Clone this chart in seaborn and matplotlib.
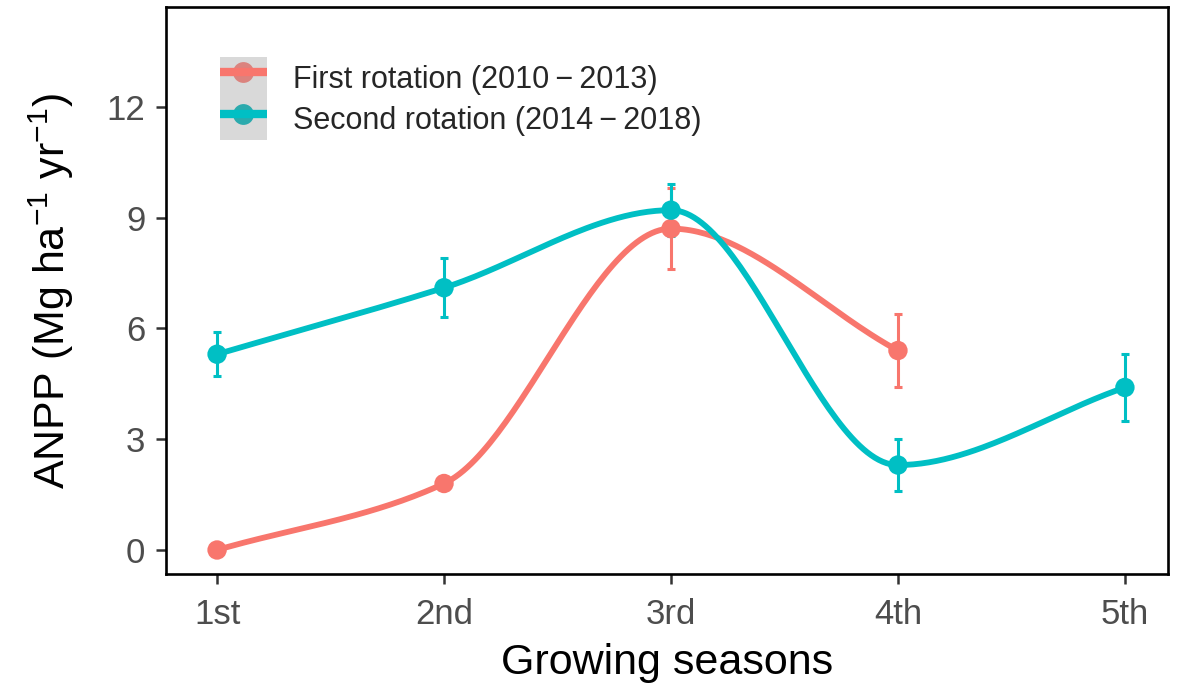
import numpy as np
import matplotlib
matplotlib.use("Agg")
import matplotlib.pyplot as plt
from matplotlib.patches import Rectangle
from matplotlib.lines import Line2D
from matplotlib.legend_handler import HandlerTuple
import seaborn as sns
import pandas as pd

# ---- data -------------------------------------------------------------
seasons = ["1st", "2nd", "3rd", "4th", "5th"]
series_names = ["First rotation (2010\u2009\u2212\u20092013)",
                "Second rotation (2014\u2009\u2212\u20092018)"]
first_mean = [0.0, 1.8, 8.7, 5.4]
first_se = [0.0, 0.0, 1.1, 1.0]
second_mean = [5.3, 7.1, 9.2, 2.3, 4.4]
second_se = [0.6, 0.8, 0.7, 0.7, 0.9]

colors = ["#F8766D", "#00BFC4"]
key_point_colors = ["#DB837E", "#2BAAAD"]


def pchip_curve(x, y, n=60):
    """Shape-preserving cubic Hermite curve through the points."""
    x = np.asarray(x, float)
    y = np.asarray(y, float)
    h = np.diff(x)
    d = np.diff(y) / h
    m = np.zeros_like(y)
    for k in range(1, len(x) - 1):
        if d[k - 1] * d[k] <= 0:
            m[k] = 0.0
        else:
            w1 = 2 * h[k] + h[k - 1]
            w2 = h[k] + 2 * h[k - 1]
            m[k] = (w1 + w2) / (w1 / d[k - 1] + w2 / d[k])
    m[0] = d[0]
    m[-1] = d[-1]
    xs, ys = [], []
    for k in range(len(x) - 1):
        t = np.linspace(0, 1, n)
        h00 = 2 * t**3 - 3 * t**2 + 1
        h10 = t**3 - 2 * t**2 + t
        h01 = -2 * t**3 + 3 * t**2
        h11 = t**3 - t**2
        xs.append(x[k] + t * h[k])
        ys.append(h00 * y[k] + h10 * h[k] * m[k] + h01 * y[k + 1] + h11 * h[k] * m[k + 1])
    return np.concatenate(xs), np.concatenate(ys)


sns.set_theme(style="white")
plt.rcParams["font.family"] = ["Liberation Sans", "DejaVu Sans"]
plt.rcParams["mathtext.fontset"] = "custom"
plt.rcParams["mathtext.rm"] = "Liberation Sans"
plt.rcParams["mathtext.it"] = "Liberation Sans"
plt.rcParams["mathtext.default"] = "regular"

fig = plt.figure(figsize=(11.79, 6.95), dpi=100)
ax = fig.add_axes([0.1408, 0.1741, 0.8499, 0.8158])

# smooth curves
curve_frames = []
for name, mean in zip(series_names, [first_mean, second_mean]):
    pos = np.arange(1, len(mean) + 1)
    cx, cy = pchip_curve(pos, mean)
    curve_frames.append(pd.DataFrame({"x": cx, "y": cy, "series": name}))
curves = pd.concat(curve_frames, ignore_index=True)
sns.lineplot(data=curves, x="x", y="y", hue="series", palette=colors,
             linewidth=4.2, sort=False, estimator=None, legend=False, ax=ax)

# points and error bars
pts = []
for name, mean, se in zip(series_names, [first_mean, second_mean], [first_se, second_se]):
    for i, (mv, sv) in enumerate(zip(mean, se)):
        pts.append({"x": i + 1, "y": mv, "se": sv, "series": name})
pts = pd.DataFrame(pts)
for name, col in zip(series_names, colors):
    sub = pts[(pts.series == name) & (pts.se > 0)]
    ax.errorbar(sub.x, sub.y, yerr=sub.se, fmt="none", ecolor=col,
                elinewidth=2.2, capsize=2.6, capthick=2.2, zorder=3)
sns.scatterplot(data=pts, x="x", y="y", hue="series", palette=colors,
                s=195, linewidth=0, legend=False, ax=ax, zorder=4)

# axes styling
ax.set_xlim(0.775, 5.19)
ax.set_ylim(-0.65, 14.7)
ax.set_xticks(range(1, len(seasons) + 1))
ax.set_xticklabels(seasons)
ax.set_yticks([0, 3, 6, 9, 12])
ax.tick_params(axis="both", labelsize=25, labelcolor="#4D4D4D", length=7,
               width=1.8, color="#333333", direction="out")
ax.tick_params(axis="x", pad=10)
ax.tick_params(axis="y", pad=8)
ax.tick_params(left=True, bottom=True)
for side in ["left", "bottom", "top", "right"]:
    ax.spines[side].set_visible(True)
    ax.spines[side].set_color("black")
    ax.spines[side].set_linewidth(1.9)
ax.set_xlabel("Growing seasons", fontsize=31, color="black", labelpad=9)
ax.set_ylabel("ANPP (Mg ha$^{-1}$ yr$^{-1}$)", fontsize=31, color="black", labelpad=22)

# legend with grey key background
handles = []
for col, kcol in zip(colors, key_point_colors):
    bg = Rectangle((0, 0), 1, 1, facecolor="#D9D9D9", edgecolor="none")
    ln = Line2D([0], [0], color=col, lw=6, solid_capstyle="butt")
    pt = Line2D([0], [0], linestyle="none", marker="o", markersize=15,
                markerfacecolor=kcol, markeredgewidth=0)
    handles.append((bg, pt, ln))
ax.legend(handles, series_names, handler_map={tuple: HandlerTuple(ndivide=1, pad=0)},
          loc="upper left", bbox_to_anchor=(0.054, 0.912), frameon=False,
          fontsize=22, borderpad=0, borderaxespad=0, labelspacing=0,
          handlelength=1.53, handleheight=1.72, handletextpad=0.85)

fig.savefig("out.png", dpi=100, facecolor="white")
